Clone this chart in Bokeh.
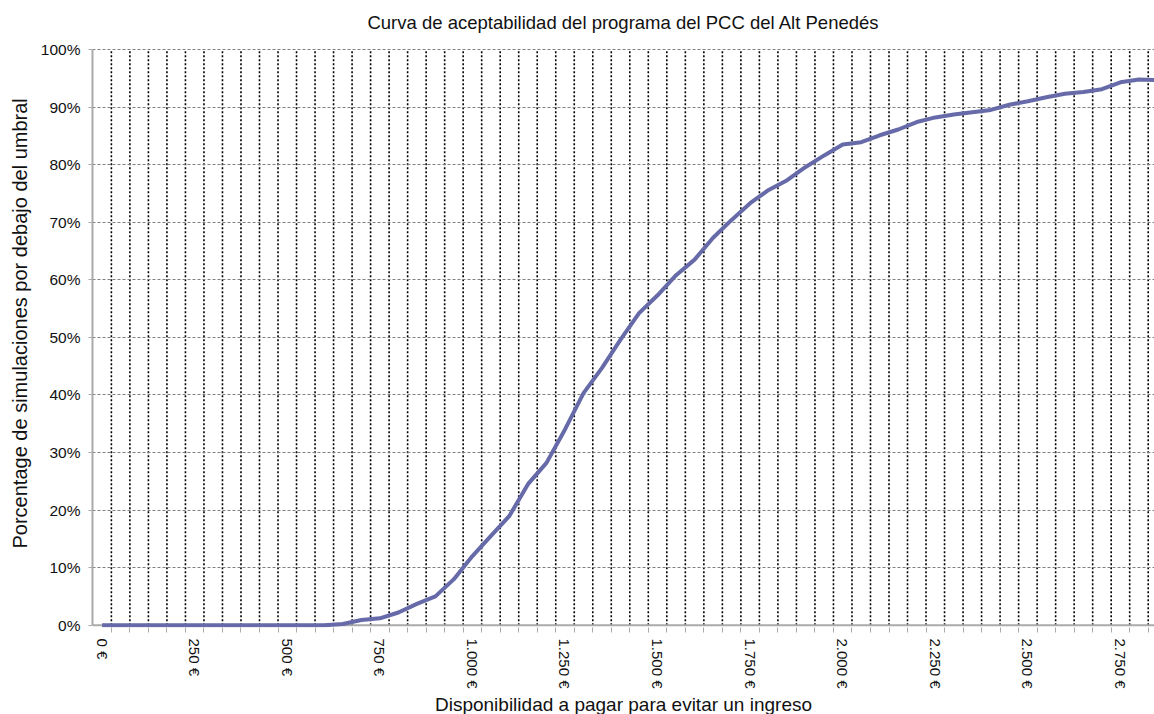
from bokeh.plotting import figure
from bokeh.models import Range1d, FixedTicker, PrintfTickFormatter, Span, Title
from bokeh.embed import file_html
from bokeh.resources import INLINE

# ---- data ----
wtp = list(range(0, 2851, 50))
pct = [0] * 13 + [0.2, 0.9, 1.2, 2.2, 3.7, 5.0, 8.0, 12.0, 15.5, 19.0,
                  24.5, 28.2, 34.0, 40.3, 44.7, 49.6, 54.2, 57.3, 60.8, 63.5,
                  67.3, 70.4, 73.3, 75.6, 77.3, 79.6, 81.6, 83.5, 83.9, 85.1,
                  86.1, 87.4, 88.2, 88.7, 89.1, 89.5, 90.4, 91.0, 91.7, 92.3,
                  92.6, 93.1, 94.3, 94.8, 94.7]
x_tick_values = [0, 250, 500, 750, 1000, 1250, 1500, 1750, 2000, 2250, 2500, 2750]
x_tick_labels = ["0 €", "250 €", "500 €", "750 €", "1.000 €", "1.250 €", "1.500 €",
                 "1.750 €", "2.000 €", "2.250 €", "2.500 €", "2.750 €"]
y_tick_values = [0, 10, 20, 30, 40, 50, 60, 70, 80, 90, 100]

title = "Curva de aceptabilidad del programa del PCC del Alt Penedés"
x_title = "Disponibilidad a pagar para evitar un ingreso"
y_title = "Porcentage de simulaciones por debajo del umbral"

FONT = "Liberation Sans"
TXT = "#111111"

# category boundaries (between the 50-unit steps)
boundaries = [w + 25 for w in wtp[:-1]]
y_min, y_max = y_tick_values[0], y_tick_values[-1]

p = figure(width=1154, height=714, output_backend="svg", toolbar_location=None,
           x_range=Range1d(-26, 2842), y_range=Range1d(-0.4, 101.56),
           min_border_left=89, min_border_right=0, min_border_top=40, min_border_bottom=86)
p.outline_line_color = None
p.background_fill_color = "white"
p.border_fill_color = "white"

p.title.text = title
p.title.align = "center"
p.title.text_font = FONT
p.title.text_font_size = "18.5px"
p.title.text_font_style = "normal"
p.title.text_color = TXT
p.title.standoff = 16

# grids
p.xgrid.visible = False
p.ygrid.ticker = FixedTicker(ticks=y_tick_values[1:])
p.ygrid.grid_line_color = "#808080"
p.ygrid.grid_line_dash = "3 2"
p.ygrid.grid_line_width = 1

# vertical dotted gridlines between categories, from 0% to 100%
p.segment(x0=boundaries, y0=[y_min] * len(boundaries), x1=boundaries,
          y1=[y_max] * len(boundaries), line_color="#000000", line_dash="2 2",
          line_width=1.6, level="underlay")

# x axis
xa = p.xaxis[0]
xa.ticker = FixedTicker(ticks=x_tick_values, minor_ticks=boundaries)
xa.major_label_overrides = {v: l for v, l in zip(x_tick_values, x_tick_labels)}
xa.major_label_orientation = "vertical"
xa.major_tick_line_color = None
xa.major_tick_out = 0
xa.major_tick_in = 0
xa.minor_tick_line_color = "#aaaaaa"
xa.minor_tick_out = 5
xa.minor_tick_in = 0
xa.axis_line_color = None
xa.major_label_standoff = 6
xa.major_label_text_font = FONT
xa.major_label_text_font_size = "15px"
xa.major_label_text_color = TXT

# y axis
ya = p.yaxis[0]
ya.ticker = FixedTicker(ticks=y_tick_values)
ya.bounds = (y_min, y_max)
ya.formatter = PrintfTickFormatter(format="%d%%")
ya.axis_line_color = "#aaaaaa"
ya.axis_line_width = 2
ya.major_tick_line_color = "#aaaaaa"
ya.major_tick_out = 4
ya.major_tick_in = 0
ya.minor_tick_line_color = None
ya.major_label_standoff = 8
ya.major_label_text_font = FONT
ya.major_label_text_font_size = "15.5px"
ya.major_label_text_color = TXT

# axis titles as layout titles
p.add_layout(Title(text=x_title, align="center", text_font=FONT, text_font_size="19px",
                   text_font_style="normal", text_color=TXT, standoff=0), "below")
p.add_layout(Title(text=y_title, align="left", text_font=FONT, text_font_size="20px",
                   text_font_style="normal", text_color=TXT, standoff=13, offset=79), "left")

# baseline (0%) axis line
p.add_layout(Span(location=0, dimension="width", line_color="#aaaaaa",
                  line_width=2, level="underlay"))

p.line(wtp, pct, line_color="#666aa8", line_width=4, line_join="round")

open("out.html", "w").write(file_html(p, INLINE))
